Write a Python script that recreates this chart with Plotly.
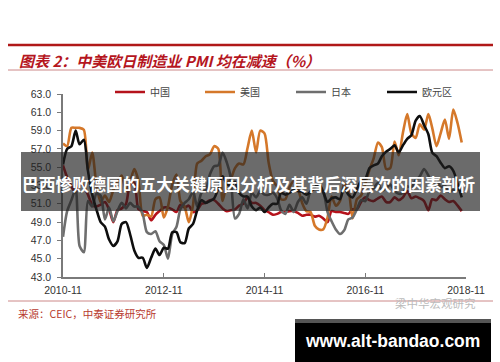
import plotly.graph_objects as go
import pandas as pd

# ---------------- data ----------------
months = pd.date_range("2010-11-01", periods=96, freq="MS")

china = [55.2, 53.9,
         52.9, 52.2, 53.4, 52.9, 52.0, 50.9, 50.7, 50.9, 51.2, 50.4, 49.0, 50.3,
         50.5, 51.0, 53.1, 53.3, 50.4, 50.2, 50.1, 49.2, 49.8, 50.2, 50.6, 50.6,
         50.4, 50.1, 50.9, 50.6, 50.8, 50.1, 50.3, 51.0, 51.1, 51.4, 51.4, 51.0,
         50.5, 50.2, 50.3, 50.4, 50.8, 51.0, 51.7, 51.1, 51.1, 50.8, 50.3, 50.1,
         49.8, 49.9, 50.1, 50.1, 50.2, 50.2, 50.0, 49.7, 49.8, 49.8, 49.6, 49.7,
         49.4, 49.0, 50.2, 50.1, 50.1, 50.0, 49.9, 50.4, 50.4, 51.2, 51.7, 51.4,
         51.3, 51.6, 51.8, 51.2, 51.2, 51.7, 51.4, 51.7, 52.4, 51.6, 51.8, 51.6,
         51.3, 50.3, 51.5, 51.4, 51.9, 51.5, 51.2, 51.3, 50.8, 50.2]

usa = [57.6, 57.3,
       59.3, 59.3, 59.3, 59.1, 54.7, 56.6, 53.1, 51.2, 51.9, 51.2, 52.5, 53.4,
       54.1, 52.4, 53.4, 54.8, 53.5, 49.7, 49.8, 49.6, 51.5, 51.7, 49.5, 50.7,
       53.1, 54.2, 51.3, 50.7, 49.0, 50.9, 55.4, 55.7, 56.2, 56.4, 57.3, 57.0,
       51.3, 53.2, 53.7, 54.9, 55.4, 55.3, 57.1, 59.0, 56.6, 59.0, 58.7, 55.5,
       53.5, 52.9, 51.5, 51.5, 52.8, 53.5, 52.7, 51.1, 50.2, 50.1, 48.6, 48.2,
       48.2, 49.5, 51.8, 50.8, 51.3, 53.2, 52.6, 49.4, 51.5, 51.9, 53.2, 54.7,
       56.0, 57.7, 57.2, 54.8, 54.9, 57.8, 56.3, 58.8, 60.8, 58.7, 58.2, 59.7,
       59.1, 60.8, 59.3, 57.3, 58.7, 60.2, 58.1, 61.3, 59.8, 57.7]

japan = [47.4, 50.2,
         51.4, 52.6, 46.4, 45.7, 51.3, 50.7, 52.1, 51.9, 49.3, 50.6, 49.1, 50.2,
         51.1, 50.5, 51.1, 50.7, 50.7, 49.9, 47.9, 47.7, 48.0, 46.9, 46.5, 45.0,
         47.7, 48.5, 50.4, 51.1, 51.5, 52.3, 50.7, 52.2, 52.5, 54.2, 55.1, 55.2,
         56.6, 55.5, 53.9, 49.4, 49.9, 51.5, 50.5, 52.2, 51.7, 52.4, 52.0, 52.0,
         52.2, 51.6, 50.3, 49.9, 50.9, 50.1, 51.2, 51.7, 51.0, 52.4, 52.6, 52.6,
         52.3, 50.1, 49.1, 48.2, 47.7, 48.1, 49.3, 49.5, 50.4, 51.4, 51.3, 52.4,
         52.7, 53.3, 52.4, 52.7, 53.1, 52.4, 52.1, 52.2, 52.9, 52.8, 53.6, 54.0,
         54.8, 54.1, 53.1, 53.8, 52.8, 53.0, 52.3, 52.5, 52.5, 52.9]

euro = [55.3, 57.0,
        57.3, 59.0, 57.5, 58.0, 54.6, 52.0, 50.4, 49.0, 48.5, 47.1, 46.4, 46.9,
        48.8, 49.0, 47.7, 45.9, 45.1, 45.1, 44.0, 45.1, 46.1, 45.4, 46.2, 46.1,
        47.9, 47.9, 46.8, 46.7, 48.3, 48.8, 50.3, 51.4, 51.1, 51.3, 51.6, 52.7,
        54.0, 53.2, 53.0, 53.4, 52.2, 51.8, 51.8, 50.7, 50.3, 50.6, 50.1, 50.6,
        51.0, 51.0, 52.2, 52.0, 52.2, 52.5, 52.4, 52.3, 52.0, 52.3, 52.8, 53.2,
        52.3, 51.2, 51.6, 51.7, 51.5, 52.8, 52.0, 51.7, 52.6, 53.5, 53.7, 54.9,
        55.2, 55.4, 56.2, 56.7, 57.0, 57.4, 56.6, 57.4, 58.1, 58.5, 60.1, 60.6,
        59.6, 58.6, 56.6, 56.2, 55.5, 54.9, 55.1, 54.6, 53.2, 51.7]

series_names = ["中国", "美国", "日本", "欧元区"]
x_tick_vals = ["2010-11-01", "2012-11-01", "2014-11-01", "2016-11-01", "2018-11-01"]
x_tick_text = ["2010-11", "2012-11", "2014-11", "2016-11", "2018-11"]
y_tick_vals = [43, 45, 47, 49, 51, 53, 55, 57, 59, 61, 63]

title_text = "图表 2：中美欧日制造业 PMI 均在减速（%）"
source_text = "来源：CEIC，中泰证券研究所"
banner_text = "巴西惨败德国的五大关键原因分析及其背后深层次的因素剖析"
site_text = "www.alt-bandao.com"
mark_text = "梁中华宏观研究"

# ---------------- layout geometry ----------------
W, H = 500, 362
ML, MR, MT, MB = 63, 34, 94, 85
PW, PH = W - ML - MR, H - MT - MB


def px(x):
    return (x - ML) / PW


def py(y):
    return (H - MB - y) / PH


colors = ["#B5121B", "#D5782A", "#6E6E6E", "#0E0E0E"]
legend_ids = ["legend", "legend2", "legend3", "legend4"]
legend_left = [110, 200, 291, 382]

fig = go.Figure()
for name, vals, col, lid in zip(series_names, [china, usa, japan, euro], colors, legend_ids):
    fig.add_trace(go.Scatter(
        x=months, y=vals, name=name, mode="lines", legend=lid,
        line=dict(color=col, width=2.6, shape="spline", smoothing=0.7),
    ))

legend_common = dict(
    orientation="h", xanchor="left", yanchor="middle",
    font=dict(family="Noto Sans CJK SC", size=10, color="#444"),
    bgcolor="rgba(0,0,0,0)", borderwidth=0,
)
legend_layout = {}
for lid, lx in zip(legend_ids, legend_left):
    legend_layout[lid] = dict(legend_common, x=px(lx), y=py(92))

fig.update_layout(
    width=W, height=H,
    margin=dict(l=ML, r=MR, t=MT, b=MB, pad=0),
    paper_bgcolor="white", plot_bgcolor="white",
    showlegend=True,
    xaxis=dict(
        type="date", range=["2010-11-01", "2018-11-01"],
        tickvals=x_tick_vals, ticktext=x_tick_text,
        showgrid=False, zeroline=False,
        showline=True, linecolor="#7a7a7a", linewidth=1.5,
        ticks="inside", ticklen=4, tickcolor="#7a7a7a", tickwidth=1.2,
        tickfont=dict(family="Liberation Sans", size=10.5, color="#333"),
        ticklabelstandoff=3,
    ),
    yaxis=dict(
        range=[43, 63], tickvals=y_tick_vals, tickformat=".1f",
        showgrid=False, zeroline=False,
        showline=True, linecolor="#7a7a7a", linewidth=1.5,
        ticks="outside", ticklen=4, tickcolor="#7a7a7a", tickwidth=1.2,
        tickfont=dict(family="Liberation Sans", size=10.5, color="#333"),
        ticklabelstandoff=4,
    ),
    **legend_layout,
)

shapes = [
    # top heavy rule
    dict(type="line", xref="paper", yref="paper", x0=px(8), x1=px(493), y0=py(45), y1=py(45),
         line=dict(color="#B01818", width=2.5)),
    # rule below title
    dict(type="line", xref="paper", yref="paper", x0=px(8), x1=px(493), y0=py(70), y1=py(70),
         line=dict(color="#CC8888", width=1)),
    # bottom rule
    dict(type="line", xref="paper", yref="paper", x0=px(8), x1=px(493), y0=py(301), y1=py(301),
         line=dict(color="#CC8888", width=1)),
    # overlay banner
    dict(type="rect", xref="paper", yref="paper", x0=px(21), x1=px(480), y0=py(211), y1=py(152),
         fillcolor="rgba(30,30,30,0.66)", line=dict(width=0), layer="above"),
    # site box
    dict(type="rect", xref="paper", yref="paper", x0=px(295), x1=px(491), y0=py(362), y1=py(319),
         fillcolor="#000000", line=dict(width=0), layer="above"),
    dict(type="rect", xref="paper", yref="paper", x0=px(295), x1=px(491), y0=py(323), y1=py(319),
         fillcolor="#555555", line=dict(width=0), layer="above"),
]
fig.update_layout(shapes=shapes)

annotations = [
    dict(text="<b><i>" + title_text + "</i></b>", xref="paper", yref="paper",
         x=px(17), y=py(60), xanchor="left", yanchor="middle", showarrow=False,
         font=dict(family="Noto Sans CJK SC", size=15, color="#B5161E")),
    dict(text=source_text, xref="paper", yref="paper",
         x=px(16), y=py(313), xanchor="left", yanchor="middle", showarrow=False,
         font=dict(family="Noto Sans CJK SC", size=10.5, color="#B83A2E")),
    dict(text=mark_text, xref="paper", yref="paper",
         x=px(393), y=py(303), xanchor="left", yanchor="middle", showarrow=False,
         font=dict(family="Noto Sans CJK SC", size=11.5, color="#BBBBBB")),
    dict(text="<b>" + banner_text + "</b>", xref="paper", yref="paper",
         x=px(20), y=py(184), xanchor="left", yanchor="middle", showarrow=False,
         font=dict(family="Noto Sans CJK SC", size=16.8, color="#FFFFFF")),
    dict(text="<b>" + site_text + "</b>", xref="paper", yref="paper",
         x=px(392), y=py(341), xanchor="center", yanchor="middle", showarrow=False,
         font=dict(family="Liberation Sans", size=17.5, color="#FFFFFF")),
]
fig.update_layout(annotations=annotations)

fig.write_html("out.html",
               config={"displayModeBar": False},
               post_script="document.body.style.margin='0';document.body.style.padding='0';")
